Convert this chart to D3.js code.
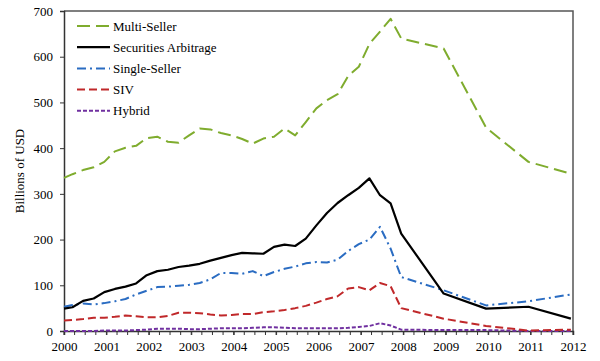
<!DOCTYPE html>
<meta charset="utf-8">
<script src="https://d3js.org/d3.v7.min.js"></script>
<style>
  body { margin: 0; background: #fff; }
</style>
<div id="chart"></div>
<script>
// quarterly dates until end 2007, then yearly
var dates = [2000.0, 2000.2, 2000.45, 2000.7, 2000.95, 2001.2, 2001.45, 2001.7, 2001.95,
  2002.2, 2002.45, 2002.7, 2002.95, 2003.2, 2003.45, 2003.7, 2003.95,
  2004.2, 2004.45, 2004.7, 2004.95, 2005.2, 2005.45, 2005.7, 2005.95,
  2006.2, 2006.45, 2006.7, 2006.95, 2007.2, 2007.45, 2007.7, 2007.95,
  2008.95, 2009.95, 2010.95, 2011.95];

var multiSeller = [335, 343, 352, 358, 370, 393, 401, 405, 422, 425, 414, 412, 428, 443, 441, 433, 428,
  420, 410, 421, 425, 443, 428, 457, 487, 505, 518, 558, 578, 628, 655, 683, 640, 618, 445, 370, 344];
var secArb = [49, 52, 66, 71, 85, 92, 97, 104, 122, 131, 134, 140, 143, 147, 154, 160, 166,
  171, 170, 169, 184, 189, 186, 202, 231, 258, 280, 297, 313, 334, 297, 279, 213, 82, 49, 53, 27];
var singleSeller = [53, 57, 60, 58, 61, 65, 70, 80, 88, 96, 97, 99, 101, 105, 113, 127, 127,
  125, 131, 120, 129, 136, 141, 148, 151, 150, 156, 175, 190, 200, 228, 180, 118, 89, 56, 65, 80];
var siv = [23, 24, 26, 29, 29, 31, 34, 32, 30, 30, 33, 40, 40, 39, 36, 34, 35,
  37, 37, 41, 43, 46, 50, 55, 62, 70, 76, 93, 96, 89, 105, 98, 50, 27, 11, 1, 3];
var hybrid = [0, 0, 0, 0, 1, 1, 1, 2, 3, 5, 5, 5, 4, 4, 5, 6, 6,
  6, 7, 8, 8, 7, 6, 6, 6, 6, 6, 7, 9, 11, 17, 12, 3, 2, 2, 0, 0];

var yearTicks = d3.range(2000, 2013);
var yTicks = [0, 100, 200, 300, 400, 500, 600, 700];

var series = [
  { name: "Multi-Seller", values: multiSeller, color: "#7fac2e", dash: "13,6", width: 2 },
  { name: "Securities Arbitrage", values: secArb, color: "#000000", dash: null, width: 2.2 },
  { name: "Single-Seller", values: singleSeller, color: "#2a6cc2", dash: "9,4,2,4", width: 2 },
  { name: "SIV", values: siv, color: "#c0282a", dash: "8,4", width: 2 },
  { name: "Hybrid", values: hybrid, color: "#7030a0", dash: "4,2", width: 2 }
];

var font = "'Liberation Serif', 'DejaVu Serif', serif";
var width = 600, height = 361;
var margin = { top: 11, right: 27, bottom: 30, left: 64 };

var svg = d3.select("#chart").append("svg")
  .attr("width", width)
  .attr("height", height)
  .style("font-family", font);

var x = d3.scaleLinear().domain([2000, 2012]).range([margin.left, width - margin.right]);
var y = d3.scaleLinear().domain([0, 700]).range([height - margin.bottom, margin.top]);

// frame (top and right)
svg.append("path")
  .attr("d", "M" + x(2000) + "," + y(700) + "H" + x(2012) + "V" + y(0))
  .attr("fill", "none")
  .attr("stroke", "#555")
  .attr("stroke-width", 1.5);

// y axis
var yAxis = svg.append("g")
  .attr("transform", "translate(" + x(2000) + ",0)")
  .call(d3.axisLeft(y).tickValues(yTicks).tickSize(4).tickPadding(7).tickFormat(d3.format("d")));
yAxis.attr("font-family", null).attr("font-size", null);
yAxis.select(".domain").attr("stroke", "#333").attr("stroke-width", 1.5);
yAxis.selectAll(".tick line").attr("stroke", "#333");
yAxis.selectAll("text").style("font-family", font).style("font-size", "13px").attr("fill", "#000");

// x axis with quarter ticks
var quarters = d3.range(0, 48 + 1).map(function (i) { return 2000 + i / 4; });
svg.append("g")
  .selectAll("line")
  .data(quarters)
  .join("line")
  .attr("x1", function (d) { return x(d); })
  .attr("x2", function (d) { return x(d); })
  .attr("y1", y(0))
  .attr("y2", y(0) + 4)
  .attr("stroke", "#333");

var xAxis = svg.append("g")
  .attr("transform", "translate(0," + y(0) + ")")
  .call(d3.axisBottom(x).tickValues(yearTicks).tickSize(4).tickPadding(7).tickFormat(d3.format("d")));
xAxis.attr("font-family", null).attr("font-size", null);
xAxis.select(".domain").attr("stroke", "#333").attr("stroke-width", 1.5);
xAxis.selectAll(".tick line").attr("stroke", "#333");
xAxis.selectAll("text").style("font-family", font).style("font-size", "13px").attr("fill", "#000");

// y label
svg.append("text")
  .attr("transform", "translate(24," + (y(350)) + ") rotate(-90)")
  .attr("text-anchor", "middle")
  .style("font-family", font)
  .style("font-size", "13px")
  .text("Billions of USD");

// lines
var line = d3.line()
  .x(function (d, i) { return x(dates[i]); })
  .y(function (d) { return y(d); });

// draw back to front so the green line sits under the others like the original
series.slice().reverse().forEach(function (s) {
  svg.append("path")
    .datum(s.values)
    .attr("fill", "none")
    .attr("stroke", s.color)
    .attr("stroke-width", s.width)
    .attr("stroke-dasharray", s.dash)
    .attr("stroke-linejoin", "round")
    .attr("d", line);
});

// legend
var legend = svg.append("g").attr("transform", "translate(77,26)");
series.forEach(function (s, i) {
  var g = legend.append("g").attr("transform", "translate(0," + (i * 21.2) + ")");
  g.append("line")
    .attr("x1", 0).attr("x2", 33)
    .attr("stroke", s.color)
    .attr("stroke-width", s.width)
    .attr("stroke-dasharray", s.dash);
  g.append("text")
    .attr("x", 36)
    .attr("dy", "0.35em")
    .style("font-family", font)
    .style("font-size", "13px")
    .text(s.name);
});
</script>
